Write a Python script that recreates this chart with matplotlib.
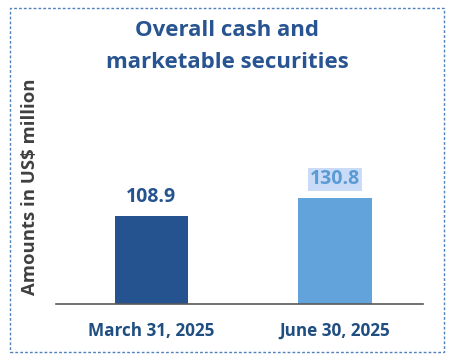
import matplotlib
matplotlib.use("Agg")
import matplotlib.pyplot as plt
from matplotlib.patches import Rectangle

# Data
categories = ["March 31, 2025", "June 30, 2025"]
values = [108.9, 130.8]
bar_colors = ["#255390", "#62a3db"]
label_colors = ["#255390", "#5b9bd5"]

plt.rcParams['font.family'] = ['Open Sans', 'DejaVu Sans']

W, H = 453, 363
fig = plt.figure(figsize=(W / 100, H / 100), dpi=100)

# Axes placed in pixel terms
ax_left, ax_right, ax_bottom, ax_top = 56, 423, 304, 100
ax = fig.add_axes([ax_left / W, 1 - ax_bottom / H,
                   (ax_right - ax_left) / W, (ax_bottom - ax_top) / H])

x = list(range(len(categories)))
ax.bar(x, values, width=0.4, color=bar_colors)
ax.set_xlim(-0.52, 1.48)
ax.set_ylim(0, 252)

for i, v in enumerate(values):
    bbox = None
    if i == 1:
        bbox = dict(boxstyle='square,pad=0.08', fc='#c9dbf7', ec='none')
    ax.annotate(f"{v:.1f}", (i, v), xytext=(0, 6.5), textcoords='offset points',
                ha='center', va='bottom', fontsize=14, fontweight='bold',
                color=label_colors[i], bbox=bbox)

ax.set_xticks(x)
ax.set_xticklabels(categories, fontsize=12.3, fontweight='bold', color='#1f4e80')
ax.tick_params(axis='x', length=0, pad=13)
ax.set_yticks([])
for s in ['top', 'right', 'left']:
    ax.spines[s].set_visible(False)
ax.spines['bottom'].set_color('#595959')
ax.spines['bottom'].set_linewidth(1.2)

# Y axis label
fig.text(30 / W, 1 - 187 / H, "Amounts in US$ million", rotation=90,
         ha='center', va='center', fontsize=13.3, fontweight='bold', color='#404040')

# Title
fig.text(227 / W, 1 - 46.5 / H, "Overall cash and\nmarketable securities",
         ha='center', va='center', fontsize=16, fontweight='bold',
         color='#285491', linespacing=1.68)

# Dashed border around the chart
fig.patches.append(Rectangle((10 / W, 1 - 352 / H), 434 / W, 344 / H,
                             transform=fig.transFigure, fill=False,
                             ec='#4f81bd', lw=1, ls=(0, (2, 1.5))))

fig.savefig("out.png", dpi=100)
